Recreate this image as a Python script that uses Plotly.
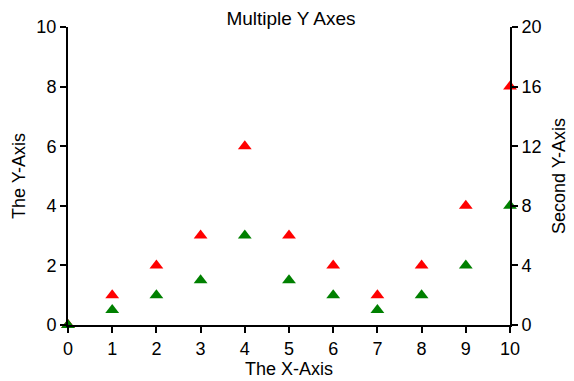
import plotly.graph_objects as go

x_vals = [0, 1, 2, 3, 4, 5, 6, 7, 8, 9, 10]
y_first = [0, 1, 2, 3, 6, 3, 2, 1, 2, 4, 8]
y_second = [0, 1, 2, 3, 6, 3, 2, 1, 2, 4, 8]

fig = go.Figure()
fig.add_trace(go.Scatter(x=x_vals, y=y_first, mode="markers", yaxis="y",
                         marker=dict(symbol="triangle-up", color="red", size=12, line=dict(width=0)),
                         showlegend=False, cliponaxis=False))
fig.add_trace(go.Scatter(x=x_vals, y=y_second, mode="markers", yaxis="y2",
                         marker=dict(symbol="triangle-up", color="green", size=12, line=dict(width=0)),
                         showlegend=False, cliponaxis=False))

axis_common = dict(showline=True, linecolor="black", linewidth=2, ticks="outside",
                   ticklen=6, tickwidth=2, tickcolor="black", showgrid=False,
                   zeroline=False, tickfont=dict(size=18, color="black"), automargin=False)

fig.update_layout(
    width=566, height=373,
    margin=dict(l=60, r=64, t=19, b=56),
    paper_bgcolor="white", plot_bgcolor="white",
    font=dict(family="Liberation Sans, Arial, sans-serif", color="black"),
    title=dict(text="Multiple Y Axes", x=0.5, xanchor="center", y=0.99, yanchor="top",
               font=dict(size=19, color="black")),
    xaxis=dict(range=[0, 10], tickvals=list(range(11)),
               title=dict(text="The X-Axis", font=dict(size=18), standoff=1), **axis_common),
    yaxis=dict(range=[0, 10], tickvals=[0, 2, 4, 6, 8, 10],
               title=dict(text="The Y-Axis", font=dict(size=18), standoff=6), **axis_common),
    yaxis2=dict(range=[0, 20], tickvals=[0, 4, 8, 12, 16, 20], overlaying="y", side="right",
                title=dict(text="Second Y-Axis", font=dict(size=18), standoff=12), **axis_common),
)

fig.write_html("out.html")
